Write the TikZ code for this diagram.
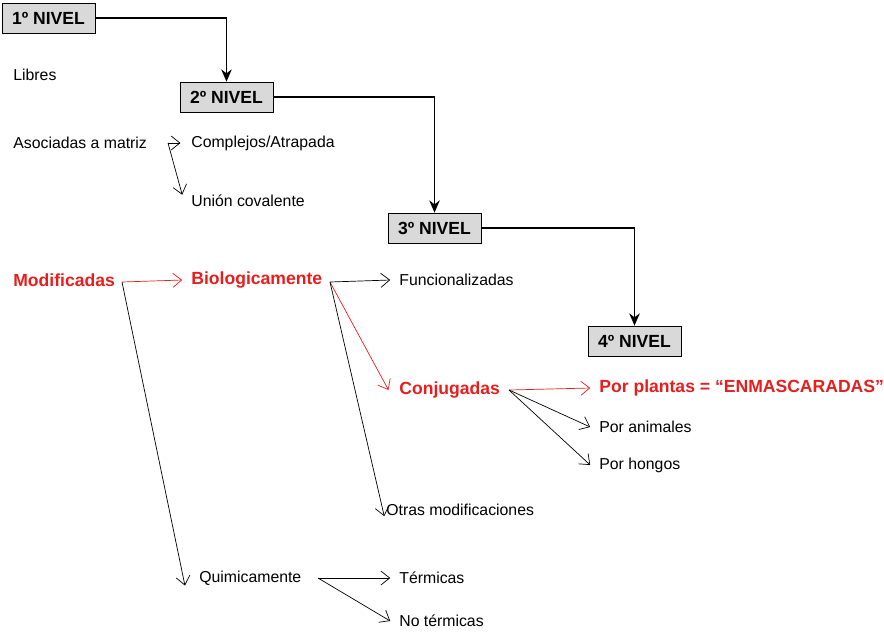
\documentclass[tikz,border=0pt]{standalone}
\usepackage{fontspec}
\setmainfont{Liberation Sans}
\usetikzlibrary{arrows.meta,positioning}
\definecolor{redtext}{RGB}{230,30,30}
\tikzstyle{level} = [draw=black, fill=black!15, minimum width=1.86cm, minimum height=0.6cm, font=\bfseries, inner sep=0pt]
\tikzstyle{item} = [anchor=west, inner sep=0pt]
\tikzstyle{hot} = [item, text=redtext, font=\bfseries]
\tikzstyle{descend} = [thick,-{Stealth[length=7pt,width=6pt]}]
\tikzstyle{branch} = [-{Straight Barb[length=5pt,width=8pt]}]
\tikzstyle{redbranch} = [branch, draw=redtext]
\begin{document}
\begin{tikzpicture}[x=0.02cm, y=-0.02cm, font=\fontsize{9}{11}\selectfont]
\useasboundingbox (0,0) rectangle (884,643);
% levels
\node (n1) [level] at (48.5,18) {1º NIVEL};
\node (n2) [level] at (226.5,97) {2º NIVEL};
\node (n3) [level] at (434.5,228) {3º NIVEL};
\node (n4) [level] at (634.5,341) {4º NIVEL};
\draw [descend] (n1.east) -| (n2.north);
\draw [descend] (n2.east) -| (n3.north);
\draw [descend] (n3.east) -| (n4.north);
% texts
\node (lib) [item] at (13,75) {Libres};
\node (aso) [item] at (13,143) {Asociadas a matriz};
\node (com) [item] at (191,143) {Complejos/Atrapada};
\node (uni) [item] at (191,201) {Unión covalente};
\node (mod) [hot] at (13,280) {Modificadas};
\node (bio) [hot] at (191,280) {Biologicamente};
\node (fun) [item] at (399,280) {Funcionalizadas};
\node (con) [hot] at (399,390) {Conjugadas};
\node (otr) [item] at (386,510) {Otras modificaciones};
\node (pla) [hot] at (599,388) {Por plantas = “ENMASCARADAS”};
\node (ani) [item] at (599,427) {Por animales};
\node (hon) [item] at (599,465) {Por hongos};
\node (qui) [item] at (199,578) {Quimicamente};
\node (ter) [item] at (399,578) {Térmicas};
\node (not) [item] at (399,621) {No térmicas};
% fork points
\coordinate (fa) at (168,143);
\coordinate (fm) at (122,282);
\coordinate (fb) at (330,282);
\coordinate (fc) at (509,390);
\coordinate (fq) at (318,578);
% branches
\draw [branch] (fa) -- ([xshift=-6pt]com.west);
\draw [branch] (fa) -- ([xshift=-5pt]uni.north west);
\draw [redbranch] (fm) -- ([xshift=-5pt]bio.west);
\draw [branch] (fb) -- ([xshift=-5pt]fun.west);
\draw [redbranch] (fb) -- ([xshift=-6pt]con.west);
\draw [branch] (fb) -- ([xshift=-1pt]otr.south west);
\draw [branch] (fm) -- ([xshift=-8pt]qui.south west);
\draw [redbranch] (fc) -- ([xshift=-5pt]pla.west);
\draw [branch] (fc) -- ([xshift=-5pt]ani.west);
\draw [branch] (fc) -- ([xshift=-5pt]hon.west);
\draw [branch] (fq) -- ([xshift=-5pt]ter.west);
\draw [branch] (fq) -- ([xshift=-5pt]not.west);
\end{tikzpicture}
\end{document}
